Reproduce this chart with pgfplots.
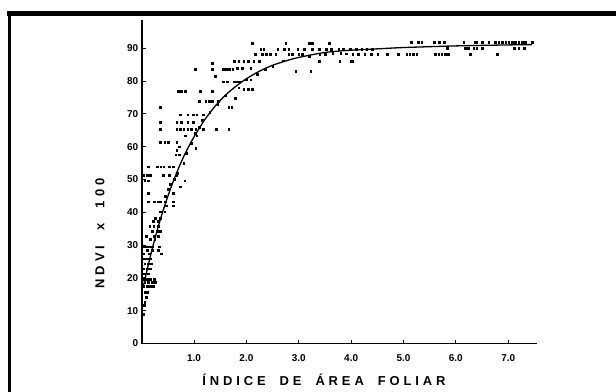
\documentclass[border=0pt]{standalone}
\usepackage{pgfplots}
\pgfplotsset{compat=1.18}
\usepackage{fontspec}
\setmainfont{Liberation Sans}
\newfontfamily\labfont[LetterSpace=30]{Liberation Sans}
\begin{document}
\begin{tikzpicture}
\useasboundingbox (0,0) rectangle (616bp,392bp);
\clip (0,0) rectangle (616bp,392bp);
\fill[white] (0,0) rectangle (616bp,392bp);
\draw[line width=4.5bp] (7bp,378.5bp) -- (640bp,378.5bp);
\draw[line width=3bp] (9.5bp,380bp) -- (9.5bp,-20bp);
\begin{axis}[
  scale only axis, width=395.3bp, height=323.5bp,
  at={(141.7bp,48.5bp)}, anchor=south west,
  xmin=0, xmax=7.55, ymin=0, ymax=98.6,
  axis lines=left, axis line style={-, line width=1.8bp},
  xtick={1,2,3,4,5,6,7},
  xticklabels={1.0,2.0,3.0,4.0,5.0,6.0,7.0},
  ytick={0,10,20,30,40,50,60,70,80,90},
  yticklabels={0,10,20,30,40,50,60,70,80,90},
  tick align=inside, major tick length=4bp,
  tick style={line width=0.9bp, black},
  tick label style={font=\fontsize{10}{11}\selectfont\bfseries},
  xticklabel style={yshift=-8bp},
  xlabel={\labfont\fontsize{13}{14}\selectfont\bfseries ÍNDICE\hspace{0.5em} DE\hspace{0.5em} ÁREA\hspace{0.5em} FOLIAR},
  ylabel={\labfont\fontsize{13}{14}\selectfont\bfseries NDVI\hspace{0.6em} x\hspace{0.6em} 100},
  xlabel style={at={(axis description cs:0.461,-0.113)}, anchor=center},
  ylabel style={at={(axis description cs:-0.1055,0.34)}, anchor=center, rotate=0},
  clip=false,
]
\addplot[only marks, mark=square*, mark size=0.85bp, black] coordinates {
(0.03,9) (0.05,11.6) (0.06,12.5) (0.08,14.2) (0.06,15.7) (0.1,15.7) (0.04,17.4) (0.1,17.4) (0.16,17.4) (0.22,17.4)
(0.06,18.7) (0.12,18.7) (0.2,18.7) (0.26,18.7) (0.03,19.7) (0.06,19.7) (0.1,19.7) (0.16,19.7) (0.24,19.7) (0.05,21.3)
(0.12,21.3) (0.04,22.8) (0.1,22.8) (0.16,22.8) (0.06,24.3) (0.12,24.3) (0.18,24.3) (0.05,25.8) (0.11,25.8) (0.17,25.8)
(0.04,27.4) (0.14,27.4) (0.37,27.4) (0.1,28.5) (0.2,28.5) (0.31,28.5) (0.03,29.5) (0.08,29.5) (0.14,29.5) (0.2,29.5)
(0.33,29.5) (0.16,31.7) (0.25,31.7) (0.09,32.7) (0.23,32.7) (0.32,32.7) (0.2,34.2) (0.29,34.2) (0.35,34.2) (0.15,35.7)
(0.23,35.7) (0.31,35.7) (0.22,37.2) (0.31,37.2) (0.26,38.2) (0.35,38.2) (0.35,40.2) (0.44,40.2) (0.47,42) (0.6,42)
(0.12,43.2) (0.24,43.2) (0.31,43.2) (0.36,43.2) (0.45,43.2) (0.6,43.2) (0.12,45.8) (0.6,45.8) (0.74,47.8) (0.06,49.6)
(0.13,49.6) (0.82,49.6) (0.04,51.4) (0.1,51.4) (0.16,51.4) (0.41,51.4) (0.52,51.4) (0.67,51.4) (0.12,53.9) (0.29,53.9)
(0.36,53.9) (0.42,53.9) (0.53,53.9) (0.6,53.9) (0.65,57.5) (0.72,57.5) (0.67,59) (0.72,60) (0.35,61.3) (0.44,61.3)
(0.51,61.3) (0.67,61.3) (1.03,59.5) (0.83,63.3) (1.05,63.3) (0.35,65.3) (0.67,65.3) (0.73,65.3) (0.8,65.3) (0.88,65.3)
(0.95,65.3) (1.03,65.3) (1.18,65.3) (1.42,65.3) (1.66,65.3) (0.35,67.4) (0.67,67.4) (0.76,67.4) (0.88,67.4) (0.99,67.4)
(0.73,69.7) (0.88,69.7) (0.99,69.7) (1.05,69.7) (1.18,69.7) (0.35,72.1) (1.66,72) (1.72,72) (1.1,73.8) (1.22,73.8)
(1.29,73.8) (1.35,73.8) (1.46,73.8) (1.78,74.7) (0.70,76.9) (0.76,76.9) (0.83,76.9) (1.12,76.9) (1.35,76.9) (1.95,77.4)
(2.04,77.4) (2.11,77.4) (1.40,81.5) (2.0,80.4) (2.08,80.4) (1.56,79.8) (1.63,79.8) (1.76,79.8) (1.82,79.8) (1.88,79.8)
(1.02,83.7) (1.34,83.7) (1.55,83.7) (1.61,83.7) (1.67,83.7) (1.74,83.7) (1.82,84) (1.92,84) (2.08,84) (2.36,83.5)
(1.34,85.5) (1.76,86) (1.85,86) (1.95,86) (2.04,86) (2.14,86) (2.24,86) (2.94,83) (3.23,83) (3.39,86)
(3.78,86) (4.0,86) (2.17,88.1) (2.3,88.1) (2.38,88.1) (2.46,88.1) (2.56,88.1) (2.81,88.1) (2.88,88.1) (3.0,88.1)
(3.07,88.1) (2.27,89.8) (2.33,89.8) (2.6,89.6) (2.72,89.6) (2.81,89.6) (2.98,89.6) (3.1,89.6) (3.25,89.6) (3.39,89.6)
(3.53,89.6) (3.62,89.6) (3.76,89.6) (3.85,89.6) (3.98,89.6) (4.1,89.6) (4.2,89.6) (4.3,89.6) (4.4,89.6) (2.11,91.6)
(2.75,91.6) (3.2,91.6) (3.26,91.6) (3.58,91.6) (3.4,88) (3.5,88) (3.65,88.5) (3.8,88.5) (3.9,88.3)
(5.15,91.8) (5.28,91.8) (5.35,91.8) (5.59,91.8) (5.68,91.8) (5.78,91.8) (6.15,91.8) (6.36,91.8) (6.4,91.8) (6.5,91.8)
(6.63,91.8) (6.75,91.8) (6.82,91.8) (6.88,91.8) (6.95,91.8) (7.01,91.8) (7.08,91.8) (7.14,91.8) (7.2,91.8) (7.27,91.8)
(7.33,91.8) (7.46,91.8) (5.83,90.1) (6.18,90.1) (6.24,90.1) (6.34,90.1) (6.4,90.1) (6.5,90.1) (7.11,90.1) (7.2,90.1)
(7.3,90.1) (4.03,88.1) (4.13,88.1) (4.26,88.1) (4.38,88.1) (4.51,88.1) (4.69,88.1) (4.9,88.1) (5.06,88.1) (5.12,88.1)
(5.19,88.1) (5.25,88.1) (5.6,88.1) (5.67,88.1) (5.73,88.1) (5.79,88.1) (5.86,88.1) (6.28,88.1) (6.79,88.1) (4.03,86)
(0.45,45) (0.5,47) (0.55,48.5) (0.62,50) (0.68,52) (0.8,55) (0.85,58) (0.95,61) (1.02,64) (1.1,66)
(1.15,68) (1.3,70.5) (1.45,73) (1.6,75.5) (1.85,78) (2.2,82) (2.5,84.5) (2.7,86.2) (3.2,87.5) (3.5,88.5)
};
\addplot[black, line width=1.3bp, smooth] coordinates {
(0.03,17.3) (0.1,22.2) (0.2,28.8) (0.3,34.7) (0.4,40.1) (0.5,44.9) (0.6,49.3) (0.7,53.3) (0.8,56.9) (0.9,60.1)
(1.0,63.0) (1.2,68.1) (1.4,72.3) (1.6,75.7) (1.8,78.4) (2.0,80.7) (2.25,83.0) (2.5,84.8) (2.75,86.1) (3.0,87.2)
(3.5,88.7) (4.0,89.4) (4.5,89.8) (5.0,90.2) (6.0,90.7) (7.0,91.0) (7.45,91.1)
};
\end{axis}
\end{tikzpicture}
\end{document}
